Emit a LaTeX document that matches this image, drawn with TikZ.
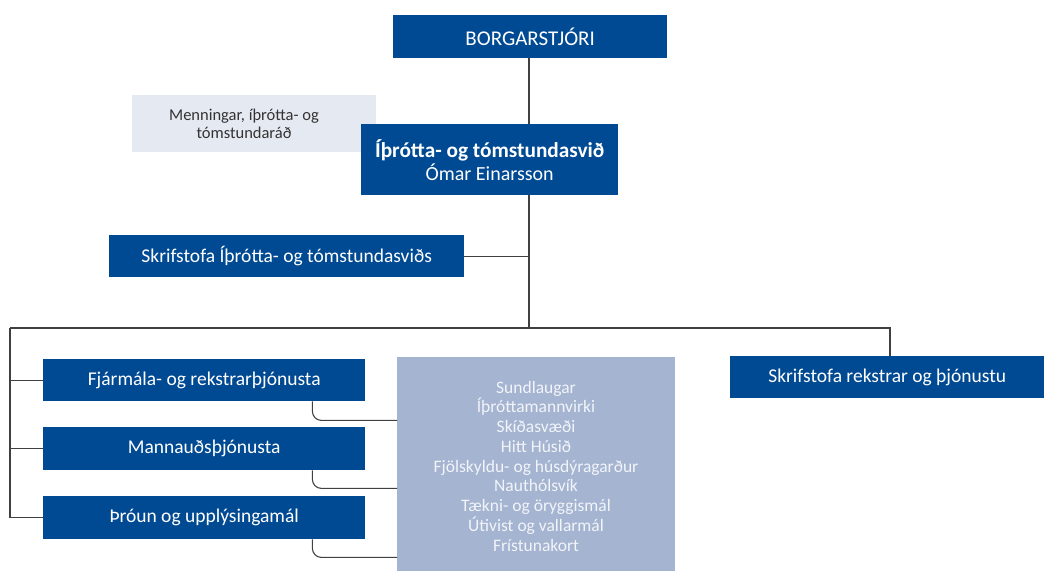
\documentclass[tikz,border=0pt]{standalone}
\usepackage{fontspec}
\setmainfont{Carlito}
\definecolor{dblue}{HTML}{004A93}
\definecolor{lgray}{HTML}{E5E9F1}
\definecolor{lblue}{HTML}{A4B4D1}
\definecolor{ltext}{HTML}{F2F4F9}
\definecolor{lcol}{HTML}{404040}
\begin{document}
\begin{tikzpicture}[x=1pt,y=-1pt,
  box/.style={fill=dblue,text=white,anchor=north west,inner sep=0pt,align=center,font=\fontsize{19.5}{23}\selectfont},
  conn/.style={draw=lcol,line width=1.1pt}]
\fill[white] (0,0) rectangle (1044,571);
\useasboundingbox (0,0) rectangle (1044,571);
\node[box,minimum width=274pt,minimum height=43pt,font=\fontsize{21}{25}\selectfont] (borg) at (393,15) {BORGARSTJÓRI};
\node[box,fill=lgray,minimum width=244pt,minimum height=57pt] (menn) at (132,95) {};
\node[anchor=center,align=center,inner sep=0pt,text=black!80,font=\fontsize{16.5}{18.5}\selectfont] (menntext) at (244,124) {Menningar, íþrótta- og\\tómstundaráð};
\node[box,minimum width=257pt,minimum height=71pt,font=\fontsize{20}{23}\selectfont] (ithr) at (361,124) {{\fontsize{21.3}{24}\selectfont\bfseries Íþrótta- og tómstundasvið}\\Ómar Einarsson};
\node[box,minimum width=355pt,minimum height=42pt] (skr) at (109,235) {Skrifstofa Íþrótta- og tómstundasviðs};
\node[box,minimum width=314pt,minimum height=42pt] (rek) at (730,356) {Skrifstofa rekstrar og þjónustu};
\node[box,minimum width=322pt,minimum height=42pt] (fjar) at (43,359) {Fjármála- og rekstrarþjónusta};
\node[box,minimum width=322pt,minimum height=43pt] (mann) at (43,427) {Mannauðsþjónusta};
\node[box,minimum width=322pt,minimum height=43pt] (thr) at (43,496) {Þróun og upplýsingamál};
\node[box,fill=lblue,minimum width=278pt,minimum height=214pt] (list) at (397,357) {};
\node[text=ltext,anchor=center,align=center,inner sep=0pt,font=\fontsize{17.5}{19.75}\selectfont] (listtext) at (536,466) {Sundlaugar\\Íþróttamannvirki\\Skíðasvæði\\Hitt Húsið\\Fjölskyldu- og húsdýragarður\\Nauthólsvík\\Tækni- og öryggismál\\Útivist og vallarmál\\Frístunakort};
\coordinate (L) at (10,328);
\coordinate (R) at (890,328);
\coordinate (J) at (529,328);
\draw[conn] (borg.south -| J) -- (ithr.north -| J);
\draw[conn] (ithr.south -| J) -- (J);
\draw[conn] (skr.east) -- (skr.east -| J);
\draw[conn] (L) -- (R) -- (rek.north -| R);
\draw[conn] (L) -- (L |- thr.west) -- (thr.west);
\draw[conn] (L |- fjar.west) -- (fjar.west);
\draw[conn] (L |- mann.west) -- (mann.west);
\draw[conn,rounded corners=9pt] ([xshift=-53pt]fjar.south east) |- ([yshift=-19pt]list.west |- fjar.south);
\draw[conn,rounded corners=9pt] ([xshift=-53pt]mann.south east) |- ([yshift=-18pt]list.west |- mann.south);
\draw[conn,rounded corners=9pt] ([xshift=-53pt]thr.south east) |- ([yshift=-18pt]list.west |- thr.south);
\end{tikzpicture}
\end{document}
